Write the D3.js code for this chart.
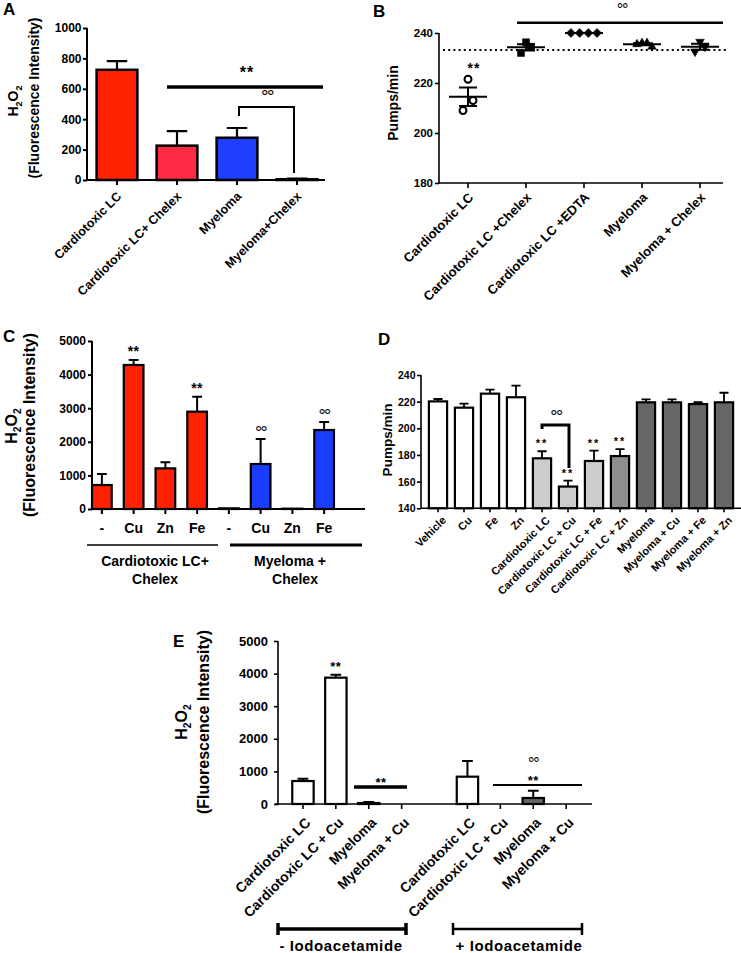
<!DOCTYPE html>
<html><head><meta charset="utf-8">
<script src="https://cdn.jsdelivr.net/npm/d3@7"></script>
<style>body{margin:0;background:#fff}svg{display:block}text{font-family:"Liberation Sans",Arial,sans-serif;fill:#000}</style>
</head><body><svg id="c" width="741" height="953"></svg>
<script>
// ---------------- DATA ----------------
const aCategories = ["Cardiotoxic LC","Cardiotoxic LC+ Chelex","Myeloma","Myeloma+Chelex"];
const aValues = [725, 226, 278, 5];
const aErrors = [57, 96, 64, 5];
const aTicks = [0,200,400,600,800,1000];

const bCategories = ["Cardiotoxic LC","Cardiotoxic LC +Chelex","Cardiotoxic LC +EDTA","Myeloma","Myeloma + Chelex"];
const bPoints = [[221.5,213,209],[236.3,234.5,232],[240,240,240,240],[236,236,235.5,234.5],[236.5,234.5,232.5]];
const bControl = 233.2;
const bTicks = [180,200,220,240];

const cLabels = ["-","Cu","Zn","Fe","-","Cu","Zn","Fe"];
const cValues = [714,4286,1210,2897,20,1339,10,2351];
const cErrors = [326,148,180,446,0,744,0,238];
const cMarks = ["","**","","**","","°°","","°°"];
const cGroups = [["Cardiotoxic LC+","Chelex"],["Myeloma +","Chelex"]];
const cTicks = [0,1000,2000,3000,4000,5000];

const dCategories = ["Vehicle","Cu","Fe","Zn","Cardiotoxic LC","Cardiotoxic LC + Cu","Cardiotoxic LC + Fe","Cardiotoxic LC + Zn","Myeloma","Myeloma + Cu","Myeloma + Fe","Myeloma + Zn"];
const dValues = [220.2,215.5,226,223.3,177.5,156.3,175.5,179.2,219.5,219.5,218.2,219.5];
const dErrors = [1.8,3,3,8.7,5.3,4.5,7.7,5.2,2.2,2.2,1.5,7.2];
const dMarks = ["","","","","**","**","**","**","","","",""];
const dTicks = [140,160,180,200,220,240];

const eCategories = ["Cardiotoxic LC","Cardiotoxic LC + Cu","Myeloma","Myeloma + Cu","Cardiotoxic LC","Cardiotoxic LC + Cu","Myeloma","Myeloma + Cu"];
const eValues = [705,3875,30,0,838,0,184,0];
const eErrors = [72,92,30,0,481,0,225,0];
const eGroups = ["- Iodoacetamide","+ Iodoacetamide"];
const eTicks = [0,1000,2000,3000,4000,5000];

// ---------------- STYLE ----------------
const aColors = ["#ff2200","#ff2a44","#1f3dff","#ff2a44"];
const cColors = ["#ff2200","#ff2200","#ff2200","#ff2200","#1a3cff","#1a3cff","#1a3cff","#1a3cff"];
const dColors = ["#fff","#fff","#fff","#fff","#cccccc","#cccccc","#cccccc","#8e8e8e","#666","#666","#666","#666"];
const eColors = ["#fff","#fff","#fff","#fff","#fff","#fff","#666","#fff"];

const svg = d3.select("#c");
svg.append("rect").attr("width",741).attr("height",953).attr("fill","#fff");

// ---------------- HELPERS ----------------
function line(g,x1,y1,x2,y2,sw){
  return g.append("line").attr("x1",x1).attr("y1",y1).attr("x2",x2).attr("y2",y2)
    .attr("stroke","#000").attr("stroke-width",sw);
}
function txt(g,x,y,s,fs,opt={}){
  return g.append("text").attr("x",x).attr("y",y).attr("font-size",fs)
    .attr("font-weight",opt.w||"bold").attr("text-anchor",opt.a||"middle").text(s);
}
function yAxis(g,scale,x,ticks,o){
  const gg = g.append("g").attr("transform",`translate(${x},0)`)
    .call(d3.axisLeft(scale).tickValues(ticks).tickSize(o.ts).tickPadding(o.pad).tickFormat(d3.format("d")));
  gg.select(".domain").remove();
  gg.selectAll(".tick line").attr("stroke","#000").attr("stroke-width",o.sw);
  gg.selectAll(".tick text").attr("font-size",o.fs).attr("font-weight","bold").attr("fill","#000")
    .style("font-family",'"Liberation Sans",Arial,sans-serif');
  line(g,x,scale.range()[0]+o.sw/2,x,scale.range()[1],o.sw);
}
function xAxis(g,band,keys,y,x1,x2,o){
  const gg = g.append("g").attr("transform",`translate(0,${y})`)
    .call(d3.axisBottom(band).tickValues(keys).tickSize(o.ts).tickFormat(""));
  gg.select(".domain").remove();
  gg.selectAll(".tick line").attr("stroke","#000").attr("stroke-width",o.sw);
  line(g,x1,y,x2,y,o.sw);
}
function rotLabels(g,band,keys,labels,axisY,dx,dy,fs){
  g.selectAll(null).data(keys).join("text")
    .attr("transform",k=>`translate(${band(k)+band.bandwidth()/2+dx},${axisY+dy}) rotate(-45)`)
    .attr("text-anchor","end").attr("dy","0.35em").attr("font-size",fs).attr("font-weight","bold")
    .text((k,i)=>labels[i]);
}
function ylab(g,x,y,s,fs,w){
  g.append("text").attr("transform",`translate(${x},${y}) rotate(-90)`).attr("text-anchor","middle")
    .attr("font-size",fs).attr("font-weight",w||"bold").text(s);
}
function h2o2(g,x,y,fs,w){
  const t = g.append("text").attr("transform",`translate(${x},${y}) rotate(-90)`).attr("text-anchor","middle")
    .attr("font-size",fs).attr("font-weight",w||"bold");
  t.append("tspan").text("H");
  t.append("tspan").attr("font-size",fs*0.65).attr("dy",fs*0.25).text("2");
  t.append("tspan").attr("dy",-fs*0.25).text("O");
  t.append("tspan").attr("font-size",fs*0.65).attr("dy",fs*0.25).text("2");
}
function stars(g,x,cy,fs,ls){
  txt(g,x,cy+fs*0.56,"**",fs).attr("letter-spacing",ls||0);
}
function degs(g,x,cy,fs,ls){
  txt(g,x,cy+fs*0.57,"°°",fs,{w:"normal"}).attr("letter-spacing",ls||0);
}
function bars(g,band,slot,ys,vals,errs,cols,o){
  const base = ys(ys.domain()[0]);
  const bw = band.bandwidth();
  g.selectAll(null).data(vals).join("rect")
    .attr("x",(d,i)=>band(slot(i))).attr("y",d=>ys(d)).attr("width",bw)
    .attr("height",d=>Math.max(0,base-ys(d))).attr("fill",(d,i)=>cols[i])
    .attr("stroke","#000").attr("stroke-width",o.sw);
  g.selectAll(null).data(vals).join("path")
    .attr("d",(d,i)=>{
      if(!errs[i]) return null;
      const cx = band(slot(i))+bw/2, y0 = ys(d), y1 = ys(d+errs[i]), hw = bw*o.cap/2;
      return `M${cx},${y0}V${y1}M${cx-hw},${y1}H${cx+hw}`;
    })
    .attr("fill","none").attr("stroke","#000").attr("stroke-width",o.esw);
}

// ---------------- PANEL A ----------------
{
  const g = svg.append("g");
  const ys = d3.scaleLinear().domain([0,1000]).range([180,28]);
  const keys = d3.range(aCategories.length);
  const xs = d3.scaleBand().domain(keys).range([87,327]).paddingInner(0.32).paddingOuter(0.16);
  bars(g,xs,i=>i,ys,aValues,aErrors,aColors,{sw:2.5,esw:2.2,cap:0.5});
  yAxis(g,ys,87,aTicks,{ts:4,pad:1.5,sw:2,fs:12});
  xAxis(g,xs,keys,180,87,325,{ts:5,sw:2});
  rotLabels(g,xs,keys,aCategories,180,2,14,12.5);
  h2o2(g,18,101,14);
  ylab(g,39,98,"(Fluorescence Intensity)",14);
  txt(g,3,15,"A",17,{a:"start"});
  // significance
  line(g,167,87,323,87,3.5);
  stars(g,247,69,16,1);
  degs(g,267,92,19,-1.5);
  g.append("path").attr("d","M239,116V107H294V173").attr("fill","none").attr("stroke","#000").attr("stroke-width",2);
}

// ---------------- PANEL B ----------------
{
  const g = svg.append("g");
  const ys = d3.scaleLinear().domain([180,240]).range([183,33]);
  const keys = d3.range(bCategories.length);
  const xs = d3.scaleBand().domain(keys).range([439,729]).padding(0);
  const cx = k => xs(k)+xs.bandwidth()/2;
  // control dotted line
  g.append("line").attr("x1",443).attr("x2",728).attr("y1",ys(bControl)).attr("y2",ys(bControl))
    .attr("stroke","#000").attr("stroke-width",2).attr("stroke-dasharray","2,3.2");
  // significance
  line(g,517,22.7,723,22.7,2.5);
  degs(g,622,6,16,-1.2);
  const syms = [d3.symbolCircle,d3.symbolSquare,d3.symbolSquare,d3.symbolTriangle,d3.symbolTriangle];
  const sizes = [38,49,41,32,32];
  const rots = [0,0,45,0,180];
  bPoints.forEach((pts,k)=>{
    const m = d3.mean(pts), sem = pts.length>1 ? d3.deviation(pts)/Math.sqrt(pts.length) : 0;
    const allSame = d3.min(pts)===d3.max(pts);
    const offs = pts.map((v,i)=> allSame ? (i-(pts.length-1)/2)*8.7 : [0,5,-5,10,-10][i]);
    // mean & SEM
    line(g,cx(k)-19,ys(m),cx(k)+19,ys(m),2);
    if(sem>0){
      g.append("path").attr("d",`M${cx(k)},${ys(m-sem)}V${ys(m+sem)}M${cx(k)-9},${ys(m-sem)}H${cx(k)+9}M${cx(k)-9},${ys(m+sem)}H${cx(k)+9}`)
        .attr("fill","none").attr("stroke","#000").attr("stroke-width",2);
    }
    g.selectAll(null).data(pts).join("path")
      .attr("d",d3.symbol().type(syms[k]).size(sizes[k]))
      .attr("transform",(v,i)=>`translate(${cx(k)+offs[i]},${ys(v)}) rotate(${rots[k]})`)
      .attr("fill",k===0?"#fff":"#000").attr("stroke","#000").attr("stroke-width",k===0?2:0.5);
  });
  stars(g,cx(0)+6,65,14,1);
  yAxis(g,ys,439,bTicks,{ts:4,pad:2,sw:1.6,fs:11.5});
  xAxis(g,xs,keys,183,439,723,{ts:5,sw:1.6});
  rotLabels(g,xs,keys,bCategories,183,3,12,13);
  ylab(g,398,103,"Pumps/min",14);
  txt(g,373,17,"B",17,{a:"start"});
}

// ---------------- PANEL C ----------------
{
  const g = svg.append("g");
  const ys = d3.scaleLinear().domain([0,5000]).range([509,341]);
  const keys = d3.range(cLabels.length);
  const xs = d3.scaleBand().domain(keys).range([86,340]).paddingInner(0.38).paddingOuter(0.19);
  const cx = k => xs(k)+xs.bandwidth()/2;
  bars(g,xs,i=>i,ys,cValues,cErrors,cColors,{sw:2.2,esw:2,cap:0.5});
  yAxis(g,ys,92,cTicks,{ts:4,pad:2,sw:2,fs:12});
  xAxis(g,xs,keys,509,92,365,{ts:5,sw:2});
  g.selectAll(null).data(keys).join("text").attr("x",k=>cx(k)).attr("y",533).attr("text-anchor","middle")
    .attr("font-size",14).attr("font-weight","bold").text(k=>cLabels[k]);
  cMarks.forEach((m,k)=>{
    if(!m) return;
    const top = ys(cValues[k]+cErrors[k]);
    if(m==="**") stars(g,cx(k),top-12,14,0.5); else degs(g,cx(k),top-10,18,-1.5);
  });
  line(g,87,545,218,545,1.5);
  line(g,230,545,362,545,3);
  txt(g,155,566,cGroups[0][0],14); txt(g,155,584,cGroups[0][1],14);
  txt(g,290,566,cGroups[1][0],14); txt(g,295,584,cGroups[1][1],14);
  h2o2(g,17,426,16);
  ylab(g,35,425,"(Fluorescence Intensity)",16);
  txt(g,3,342,"C",17,{a:"start"});
}

// ---------------- PANEL D ----------------
{
  const g = svg.append("g");
  const ys = d3.scaleLinear().domain([140,240]).range([508.3,375]);
  const keys = d3.range(dCategories.length);
  const xs = d3.scaleBand().domain(keys).range([425,737]).paddingInner(0.3).paddingOuter(0.15);
  const cx = k => xs(k)+xs.bandwidth()/2;
  bars(g,xs,i=>i,ys,dValues,dErrors,dColors,{sw:2.2,esw:1.8,cap:0.5});
  yAxis(g,ys,421,dTicks,{ts:4,pad:1.5,sw:1.6,fs:10.5});
  xAxis(g,xs,keys,508.3,421,741,{ts:4,sw:1.6});
  rotLabels(g,xs,keys,dCategories,508.3,6,10,11);
  dMarks.forEach((m,k)=>{ if(m) stars(g,cx(k),ys(dValues[k]+dErrors[k])-10,11,2); });
  g.append("path").attr("d",`M${cx(4)},429V425H${cx(5)+1}V468`).attr("fill","none").attr("stroke","#000").attr("stroke-width",3);
  degs(g,556,413,18,-1.5);
  ylab(g,392,440,"Pumps/min",13.5);
  txt(g,378,345,"D",17,{a:"start"});
}

// ---------------- PANEL E ----------------
{
  const g = svg.append("g");
  const ys = d3.scaleLinear().domain([0,5000]).range([804,641]);
  const slots = d3.range(eCategories.length+1);
  const slot = i => i<4 ? i : i+1;
  const keys = d3.range(eCategories.length).map(slot);
  const xs = d3.scaleBand().domain(slots).range([286.5,582.6]).paddingInner(0.35).paddingOuter(0.175);
  const cx = k => xs(k)+xs.bandwidth()/2;
  bars(g,xs,slot,ys,eValues,eErrors,eColors,{sw:2.2,esw:2,cap:0.5});
  yAxis(g,ys,278,eTicks,{ts:4,pad:6,sw:1.6,fs:13});
  xAxis(g,xs,keys,804,275,592,{ts:5,sw:1.6});
  rotLabels(g,xs,keys,eCategories,804,5,16,14);
  stars(g,cx(1),664,13,0.5);
  line(g,354,787,407,787,3.5);
  stars(g,381,780,13,0.5);
  line(g,493,785,582,785,2);
  stars(g,cx(7),778,13,0.5);
  degs(g,cx(7),760,16,-1.2);
  // group brackets
  g.append("path").attr("d","M278,923V935M278,929H406M406,923V935").attr("fill","none").attr("stroke","#000").attr("stroke-width",3.5);
  g.append("path").attr("d","M453,923V935M453,929H582M582,923V935").attr("fill","none").attr("stroke","#000").attr("stroke-width",2.5);
  txt(g,341,951,eGroups[0],15).attr("letter-spacing",0.6);
  txt(g,519,951,eGroups[1],15).attr("letter-spacing",0.6);
  h2o2(g,187,722,16);
  ylab(g,209,722,"(Fluorescence Intensity)",16);
  txt(g,173,647,"E",17,{a:"start"});
}
</script></body></html>
